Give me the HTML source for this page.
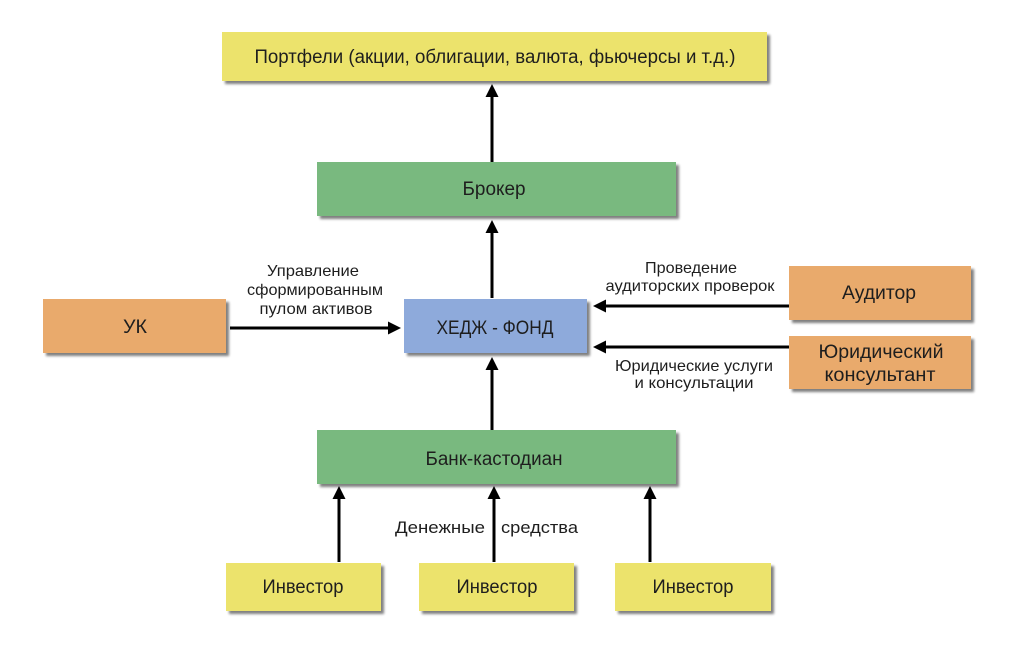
<!DOCTYPE html>
<html>
<head>
<meta charset="utf-8">
<style>
html,body{margin:0;padding:0;background:#fff;}
svg{display:block;}
text{font-family:"Liberation Sans","DejaVu Sans",sans-serif;fill:#1e1e1e;}
</style>
</head>
<body>
<svg width="1024" height="652" viewBox="0 0 1024 652" xmlns="http://www.w3.org/2000/svg">
<defs>
<filter id="sh" x="-5%" y="-10%" width="115%" height="130%">
<feGaussianBlur in="SourceAlpha" stdDeviation="1.2"/>
<feOffset dx="3" dy="3" result="o"/>
<feComponentTransfer><feFuncA type="linear" slope="0.5"/></feComponentTransfer>
<feMerge><feMergeNode/><feMergeNode in="SourceGraphic"/></feMerge>
</filter>
</defs>

<!-- Boxes -->
<rect x="222" y="32" width="545" height="49" fill="#ece36c" filter="url(#sh)"/>
<rect x="317" y="162" width="359" height="54" fill="#79b97f" filter="url(#sh)"/>
<rect x="404" y="299" width="183" height="54" fill="#8eaadb" filter="url(#sh)"/>
<rect x="43" y="299" width="183" height="54" fill="#e9aa6c" filter="url(#sh)"/>
<rect x="789" y="266" width="182" height="54" fill="#e9aa6c" filter="url(#sh)"/>
<rect x="789" y="336" width="182" height="53" fill="#e9aa6c" filter="url(#sh)"/>
<rect x="317" y="430" width="359" height="54" fill="#79b97f" filter="url(#sh)"/>
<rect x="226" y="563" width="155" height="48" fill="#ece36c" filter="url(#sh)"/>
<rect x="419" y="563" width="155" height="48" fill="#ece36c" filter="url(#sh)"/>
<rect x="615" y="563" width="156" height="48" fill="#ece36c" filter="url(#sh)"/>

<!-- Connectors -->
<g stroke="#000" stroke-width="3" fill="none">
<line x1="492" y1="162" x2="492" y2="95"/>
<line x1="492" y1="298" x2="492" y2="231"/>
<line x1="492" y1="430" x2="492" y2="368"/>
<line x1="230" y1="328" x2="390" y2="328"/>
<line x1="789" y1="306" x2="604" y2="306"/>
<line x1="789" y1="347" x2="604" y2="347"/>
<line x1="339" y1="562" x2="339" y2="497"/>
<line x1="494" y1="562" x2="494" y2="497"/>
<line x1="650" y1="562" x2="650" y2="497"/>
</g>
<g fill="#000">
<polygon points="492,84 485.5,97 498.5,97"/>
<polygon points="492,220 485.5,233 498.5,233"/>
<polygon points="492,357 485.5,370 498.5,370"/>
<polygon points="401,328 388,321.5 388,334.5"/>
<polygon points="593,306 606,299.5 606,312.5"/>
<polygon points="593,347 606,340.5 606,353.5"/>
<polygon points="339,486 332.5,499 345.5,499"/>
<polygon points="494,486 487.5,499 500.5,499"/>
<polygon points="650,486 643.5,499 656.5,499"/>
</g>

<!-- Box labels -->
<g font-size="19" text-anchor="middle">
<text x="495" y="63" textLength="481" lengthAdjust="spacingAndGlyphs">Портфели (акции, облигации, валюта, фьючерсы и т.д.)</text>
<text x="494" y="195" textLength="63" lengthAdjust="spacingAndGlyphs">Брокер</text>
<text x="495" y="334" textLength="117" lengthAdjust="spacingAndGlyphs">ХЕДЖ - ФОНД</text>
<text x="135" y="333" textLength="24" lengthAdjust="spacingAndGlyphs">УК</text>
<text x="879" y="299" textLength="74" lengthAdjust="spacingAndGlyphs">Аудитор</text>
<text x="881" y="358" textLength="125" lengthAdjust="spacingAndGlyphs">Юридический</text>
<text x="880" y="381" textLength="111" lengthAdjust="spacingAndGlyphs">консультант</text>
<text x="494" y="465" textLength="137" lengthAdjust="spacingAndGlyphs">Банк-кастодиан</text>
<text x="303" y="593" textLength="81" lengthAdjust="spacingAndGlyphs">Инвестор</text>
<text x="497" y="593" textLength="81" lengthAdjust="spacingAndGlyphs">Инвестор</text>
<text x="693" y="593" textLength="81" lengthAdjust="spacingAndGlyphs">Инвестор</text>
</g>

<!-- Connector labels -->
<g font-size="16" text-anchor="middle">
<text x="313" y="276" textLength="92" lengthAdjust="spacingAndGlyphs">Управление</text>
<text x="315" y="295" textLength="136" lengthAdjust="spacingAndGlyphs">сформированным</text>
<text x="316" y="314" textLength="113" lengthAdjust="spacingAndGlyphs">пулом активов</text>
<text x="691" y="273" textLength="92" lengthAdjust="spacingAndGlyphs">Проведение</text>
<text x="690" y="291" textLength="169" lengthAdjust="spacingAndGlyphs">аудиторских проверок</text>
<text x="694" y="371" textLength="158" lengthAdjust="spacingAndGlyphs">Юридические услуги</text>
<text x="694" y="388" textLength="119" lengthAdjust="spacingAndGlyphs">и консультации</text>
</g>
<g font-size="17">
<text x="395" y="533" textLength="90" lengthAdjust="spacingAndGlyphs">Денежные</text>
<text x="501" y="533" textLength="77" lengthAdjust="spacingAndGlyphs">средства</text>
</g>
</svg>
</body>
</html>
